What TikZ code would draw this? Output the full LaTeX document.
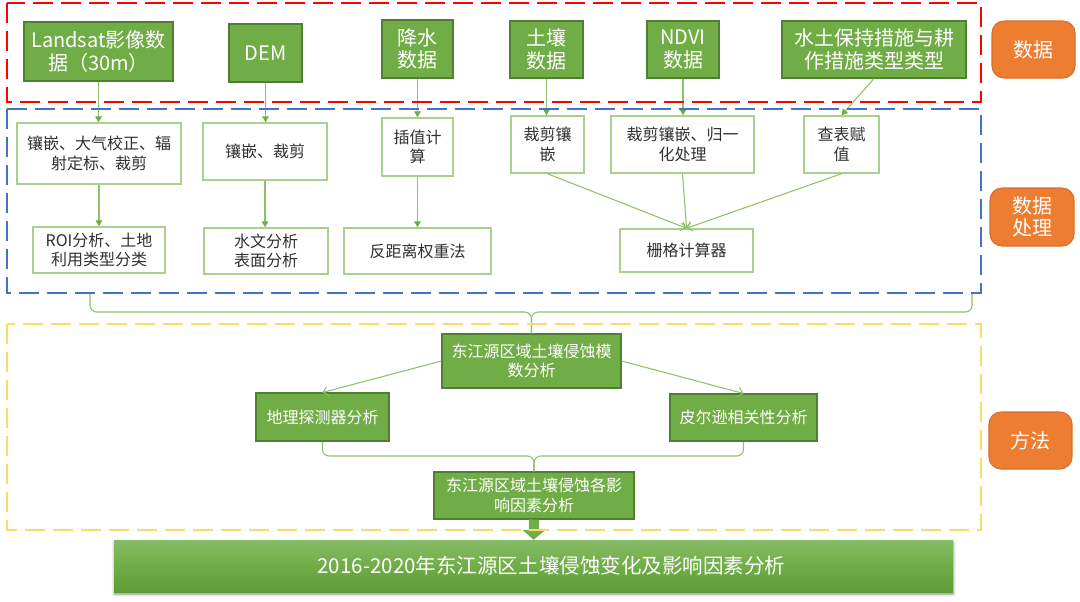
\documentclass[tikz,border=0pt]{standalone}
\usepackage{fontspec}
\setmainfont{Noto Sans CJK SC}
\usetikzlibrary{arrows.meta,shadows.blur,calc}

\definecolor{gfill}{HTML}{70AD47}
\definecolor{gedge}{HTML}{507E32}
\definecolor{lgreen}{HTML}{A9D18E}
\definecolor{lnk}{HTML}{8CC26C}
\definecolor{ofill}{HTML}{ED7D31}
\definecolor{oedge}{HTML}{D8702A}
\definecolor{fred}{HTML}{FF0000}
\definecolor{fblue}{HTML}{4472C4}
\definecolor{fyellow}{HTML}{FFD966}
\definecolor{ink}{HTML}{303030}
\definecolor{HTMLtop}{HTML}{86BC66}
\definecolor{HTMLbot}{HTML}{5E9C37}

\tikzset{
  sz/.style 2 args={minimum width=#1*0.75pt, minimum height=#2*0.75pt},
  bigtxt/.style={font=\fontsize{15}{17}\selectfont},
  smalltxt/.style={font=\fontsize{12}{14.5}\selectfont},
  src/.style={draw=gedge, fill=gfill, line width=0.8pt, text=white, inner sep=0pt, align=center, bigtxt},
  proc/.style={draw=lgreen, fill=white, line width=1.1pt, text=ink, inner sep=0pt, align=center, smalltxt},
  meth/.style={draw=gedge, fill=gfill, line width=0.8pt, text=white, inner sep=0pt, align=center, smalltxt},
  tag/.style={draw=oedge, fill=ofill, rounded corners=9pt, line width=0.8pt, text=white, inner sep=0pt, align=center, bigtxt},
  frame/.style={line width=2pt, dash pattern=on 15pt off 6pt},
  conn/.style={draw=lnk, line width=0.8pt},
  tip/.style={conn, -{Triangle[width=5pt,length=4.5pt,color=gfill]}},
  barb/.style={conn, -{Straight Barb[width=7pt,length=3.5pt]}},
  brace/.style={conn, rounded corners=5pt},
  result/.style={top color=HTMLtop, bottom color=HTMLbot, middle color=gfill, draw=none,
    text=white, inner sep=0pt, font=\fontsize{15.4}{17}\selectfont,
    blur shadow={shadow xshift=0.3pt, shadow yshift=-1.6pt, shadow blur radius=2pt, shadow opacity=45}},
}

\begin{document}
\begin{tikzpicture}[x=0.75pt, y=-0.75pt]
\useasboundingbox (0,0) rectangle (1080,601);

% ---------- data sources ----------
\node[src, sz={149}{59}] (L)  at (98.5,51.5) {Landsat影像数\\据（30m）};
\node[src, sz={73}{58}]  (D)  at (265.5,53)  {DEM};
\node[src, sz={71}{58}]  (R)  at (417.5,49)  {降水\\数据};
\node[src, sz={73}{57}]  (S)  at (546.5,49.5) {土壤\\数据};
\node[src, sz={72}{57}]  (N)  at (683,49.5)  {NDVI\\数据};
\node[src, sz={184}{57}] (W)  at (874,49.5)  {水土保持措施与耕\\作措施类型类型};

% ---------- preprocessing ----------
\node[proc, sz={164}{61}] (P1) at (99,153.5)   {镶嵌、大气校正、辐\\射定标、裁剪};
\node[proc, sz={124}{57}] (P2) at (265,151.5)  {镶嵌、裁剪};
\node[proc, sz={71}{58}]  (P3) at (417.5,147)  {插值计\\算};
\node[proc, sz={73}{57}]  (P4) at (547.5,144.5) {裁剪镶\\嵌};
\node[proc, sz={143}{57}] (P5) at (682.5,144.5) {裁剪镶嵌、归一\\化处理};
\node[proc, sz={75}{57}]  (P6) at (841.5,144.5) {查表赋\\值};

\node[proc, sz={132}{46}] (Q1) at (99,250)    {ROI分析、土地\\利用类型分类};
\node[proc, sz={124}{46}] (Q2) at (266,251)   {水文分析\\表面分析};
\node[proc, sz={147}{46}] (Q3) at (417.5,251) {反距离权重法};
\node[proc, sz={133}{43}] (Q4) at (686.5,250.5) {栅格计算器};

% ---------- methods ----------
\node[meth, sz={179}{54}] (M1) at (531.5,361)  {东江源区域土壤侵蚀模\\数分析};
\node[meth, sz={133}{48}] (M2) at (322.5,417)  {地理探测器分析};
\node[meth, sz={147}{47}] (M3) at (743.5,417.5) {皮尔逊相关性分析};
\node[meth, sz={200}{47}] (M4) at (534,495.5)  {东江源区域土壤侵蚀各影\\响因素分析};

\node[result, sz={839}{52}] (F) at (533.5,566) {\hspace*{27pt}2016-2020年东江源区土壤侵蚀变化及影响因素分析};

% ---------- stage tags ----------
\node[tag, sz={83}{57}] (T1) at (1033.5,49.5) {数据};
\node[tag, sz={84}{58}] (T2) at (1032,217)    {数据\\处理};
\node[tag, sz={83}{57}] (T3) at (1030.5,440.5) {方法};

% ---------- connectors ----------
\foreach \a/\b in {L/P1, D/P2, R/P3, S/P4, N/P5, P1/Q1, P2/Q2, P3/Q3}
  \draw[tip] (\a.south) -- (\a.south |- \b.north);
\draw[tip] (W.south) -- (P6.north);

\foreach \a in {P4, P5, P6}
  \draw[barb] (\a.south) -- (Q4.north);

\draw[barb] (M1.west) -- (M2.north);
\draw[barb] (M1.east) -- (M3.north);

% brace joining the preprocessing stage to the erosion model
\coordinate (bl) at (90,293);
\coordinate (br) at (972,293);
\coordinate (j1) at (531.5,312);
\draw[brace] (bl) |- (j1) -- (M1.north);
\draw[brace] (br) |- (j1) -- (M1.north);

% brace joining both analyses to the factor analysis
\coordinate (j2) at (534,456);
\draw[brace] (M2.south) |- (j2) -- (M4.north);
\draw[brace] (M3.south) |- (j2) -- (M4.north);

% block arrow to the final result
\draw[draw=gfill, line width=7.5pt, -{Triangle[width=16pt,length=7pt]}] (M4.south) -- (F.north);

% ---------- stage frames ----------
\draw[frame, fred]    (7,3)   rectangle (981,102);
\draw[frame, fblue]   (7,109) rectangle (981,293);
\draw[frame, fyellow] (7,324) rectangle (981,530);
\end{tikzpicture}
\end{document}
